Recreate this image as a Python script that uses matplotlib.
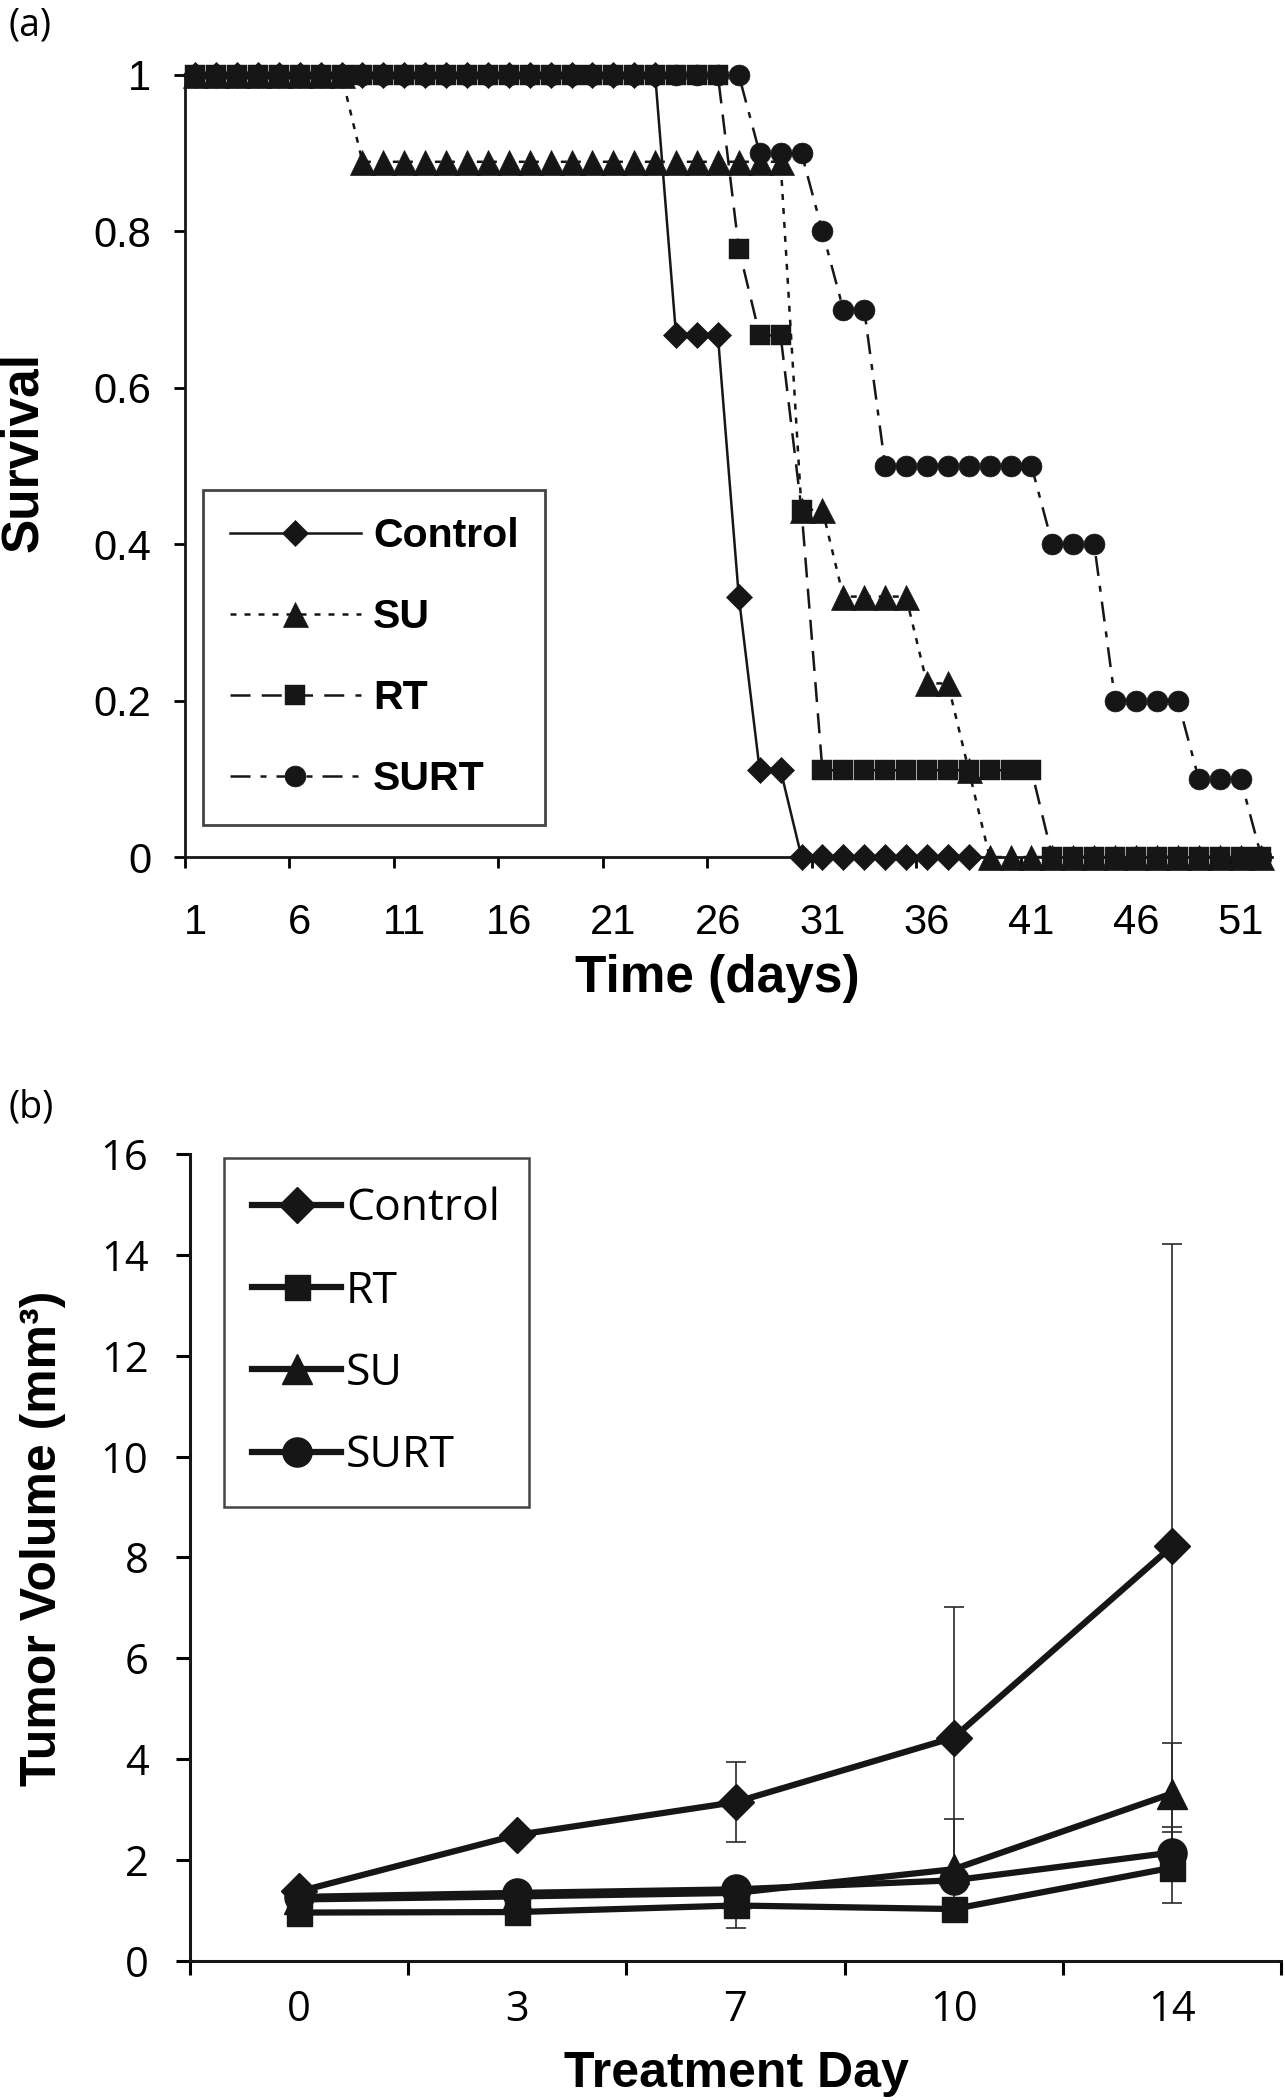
import numpy as np
import matplotlib
matplotlib.use("Agg")
import matplotlib.pyplot as plt

plt.rcParams["font.family"] = ["Liberation Sans", "DejaVu Sans"]

# ---- panel (a): survival curves ----
days = list(range(1, 53))
control_days = list(range(1, 39))
control_surv = [1, 1, 1, 1, 1, 1, 1, 1, 1, 1, 1, 1, 1, 1, 1, 1, 1, 1, 1, 1,
                1, 1, 1, 0.667, 0.667, 0.667, 0.333, 0.111, 0.111, 0, 0, 0, 0,
                0, 0, 0, 0, 0]
su_surv = [1, 1, 1, 1, 1, 1, 1, 1, 0.889, 0.889, 0.889, 0.889, 0.889, 0.889,
           0.889, 0.889, 0.889, 0.889, 0.889, 0.889, 0.889, 0.889, 0.889,
           0.889, 0.889, 0.889, 0.889, 0.889, 0.889, 0.444, 0.444, 0.333,
           0.333, 0.333, 0.333, 0.222, 0.222, 0.111, 0, 0, 0, 0, 0, 0, 0, 0,
           0, 0, 0, 0, 0, 0]
rt_surv = [1, 1, 1, 1, 1, 1, 1, 1, 1, 1, 1, 1, 1, 1, 1, 1, 1, 1, 1, 1, 1, 1,
           1, 1, 1, 1, 0.778, 0.667, 0.667, 0.444, 0.111, 0.111, 0.111, 0.111,
           0.111, 0.111, 0.111, 0.111, 0.111, 0.111, 0.111, 0, 0, 0, 0, 0, 0,
           0, 0, 0, 0, 0]
surt_surv = [1, 1, 1, 1, 1, 1, 1, 1, 1, 1, 1, 1, 1, 1, 1, 1, 1, 1, 1, 1, 1,
             1, 1, 1, 1, 1, 1, 0.9, 0.9, 0.9, 0.8, 0.7, 0.7, 0.5, 0.5, 0.5,
             0.5, 0.5, 0.5, 0.5, 0.5, 0.4, 0.4, 0.4, 0.2, 0.2, 0.2, 0.2, 0.1,
             0.1, 0.1, 0]
day_labels = [1, 6, 11, 16, 21, 26, 31, 36, 41, 46, 51]

# ---- panel (b): tumor volume ----
treat_days = ["0", "3", "7", "10", "14"]
control_vol = [1.38, 2.5, 3.15, 4.43, 8.22]
control_err = [0, 0, 0.8, 2.58, 6.0]
rt_vol = [0.96, 0.97, 1.1, 1.03, 1.85]
rt_err = [0, 0, 0.45, 0, 0.7]
su_vol = [1.22, 1.28, 1.35, 1.82, 3.32]
su_err = [0, 0, 0, 1.0, 1.0]
surt_vol = [1.27, 1.35, 1.42, 1.6, 2.15]
surt_err = [0, 0, 0, 0, 0.5]

INK = "#161616"
SANS2 = ["Open Sans", "DejaVu Sans"]

fig = plt.figure(figsize=(12.85, 21), dpi=100)

# ================= (a) =================
ax1 = fig.add_axes([0.1438, 0.5919, 0.846, 0.3724])
lw = 1.8
ax1.plot(control_days, control_surv, color=INK, lw=lw, marker="D", ms=13,
         mew=0.5, label="Control", clip_on=False, zorder=3)
ax1.plot(days, su_surv, color=INK, lw=lw, dashes=(2.4, 3.2), marker="^",
         ms=18, mew=0.5, label="SU", clip_on=False, zorder=4)
ax1.plot(days, rt_surv, color=INK, lw=lw, dashes=(8, 4.5), marker="s",
         ms=14.5, mew=0.3, label="RT", clip_on=False, zorder=5)
ax1.plot(days, surt_surv, color=INK, lw=lw, dashes=(8, 4, 2.4, 4), marker="o",
         ms=15, mew=0.5, label="SURT", clip_on=False, zorder=6)

ax1.set_xlim(0.5, 52.5)
ax1.set_ylim(0, 1)
ax1.set_xticks(day_labels)
ax1.set_xticklabels([str(d) for d in day_labels])
ax1.set_xticks(np.arange(0.5, 52, 5), minor=True)
ax1.set_yticks([0, 0.2, 0.4, 0.6, 0.8, 1])
ax1.set_yticklabels(["0", "0.2", "0.4", "0.6", "0.8", "1"])
ax1.tick_params(axis="x", which="major", length=0, pad=33, labelsize=30)
ax1.tick_params(axis="x", which="minor", length=8, width=2, direction="out")
ax1.tick_params(axis="y", length=8, width=2, direction="out", pad=16,
                labelsize=30)
for s in ["top", "right"]:
    ax1.spines[s].set_visible(False)
for s in ["left", "bottom"]:
    ax1.spines[s].set_linewidth(2)
    ax1.spines[s].set_color(INK)

leg1 = ax1.legend(loc="upper left", bbox_to_anchor=(0.0167, 0.469),
                  borderaxespad=0, frameon=True, fancybox=False,
                  edgecolor=INK, borderpad=0.65, handlelength=3.2,
                  handletextpad=0.3, labelspacing=1.05, numpoints=1,
                  prop={"weight": "bold", "size": 29.5})
leg1.get_frame().set_linewidth(2)

fig.text(0.0187, 0.785, "Survival", rotation=90, ha="center", va="center",
         fontsize=37, fontweight="bold")
fig.text(0.558, 0.534, "Time (days)", ha="center", va="center",
         fontsize=37, fontweight="bold")
fig.text(0.007, 0.988, "(a)", ha="left", va="center", fontsize=27,
         family=SANS2)

# ================= (b) =================
ax2 = fig.add_axes([0.1479, 0.0662, 0.849, 0.3843])
x = np.arange(len(treat_days))
series = [
    ("Control", control_vol, control_err, "D", 18),
    ("RT", rt_vol, rt_err, "s", 18),
    ("SU", su_vol, su_err, "^", 22),
    ("SURT", surt_vol, surt_err, "o", 21),
]
for i, (name, vol, err, mk, ms) in enumerate(series):
    ax2.errorbar(x, vol, yerr=err, fmt="none", ecolor="#2a2a2a",
                 elinewidth=1.2, capsize=7, capthick=1.2, zorder=2)
    ax2.plot(x, vol, color=INK, lw=4.5, marker=mk, ms=ms, label=name,
             zorder=3 + i)

ax2.set_xlim(-0.5, 4.5)
ax2.set_ylim(0, 16)
ax2.set_xticks(x)
ax2.set_xticklabels(treat_days, family=SANS2)
ax2.set_xticks(np.arange(-0.5, 5, 1), minor=True)
ax2.set_yticks(np.arange(0, 17, 2))
ax2.set_yticklabels([str(v) for v in range(0, 17, 2)], family=SANS2)
ax2.tick_params(axis="x", which="major", length=0, pad=20, labelsize=30)
ax2.tick_params(axis="x", which="minor", length=10, width=2.2,
                direction="out")
ax2.tick_params(axis="y", length=10, width=2.2, direction="out", pad=20,
                labelsize=30)
for s in ["top", "right"]:
    ax2.spines[s].set_visible(False)
for s in ["left", "bottom"]:
    ax2.spines[s].set_linewidth(2.2)
    ax2.spines[s].set_color(INK)

leg2 = ax2.legend(loc="upper left", bbox_to_anchor=(0.0307, 0.995),
                  borderaxespad=0, frameon=True, fancybox=False,
                  edgecolor=INK, borderpad=0.65, handlelength=2.0,
                  handletextpad=0.1, labelspacing=0.85, numpoints=1,
                  prop={"family": SANS2, "size": 32})
leg2.get_frame().set_linewidth(1.8)

fig.text(0.0335, 0.2676, "Tumor Volume (mm\u00b3)", rotation=90, ha="center",
         va="center", fontsize=36, fontweight="bold")
fig.text(0.573, 0.0124, "Treatment Day", ha="center", va="center",
         fontsize=36, fontweight="bold")
fig.text(0.007, 0.4724, "(b)", ha="left", va="center", fontsize=27,
         family=SANS2)

fig.savefig("out.png", dpi=100)
